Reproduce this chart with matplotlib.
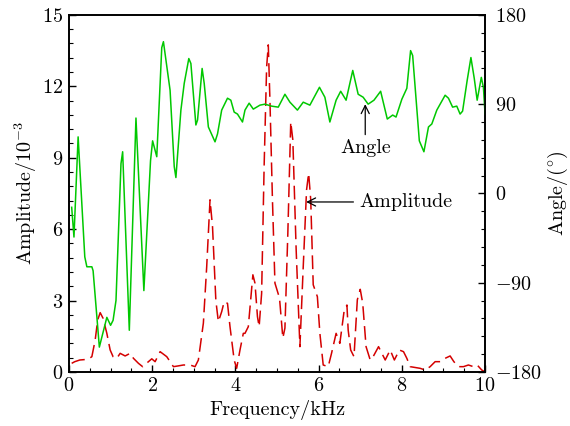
import matplotlib
matplotlib.use('Agg')
import matplotlib.pyplot as plt
from matplotlib.ticker import MultipleLocator

plt.rcParams['font.family'] = 'cmr10'
plt.rcParams['mathtext.fontset'] = 'cm'
plt.rcParams['axes.formatter.use_mathtext'] = True
plt.rcParams['font.size'] = 14.5

# angle trace (green)
angle_f = [0.065, 0.12, 0.22, 0.38, 0.43, 0.55, 0.58, 0.73, 0.91, 1.00, 1.06, 1.13,
           1.25, 1.29, 1.45, 1.61, 1.80, 1.96, 2.01, 2.11, 2.23, 2.27, 2.43, 2.53,
           2.57, 2.69, 2.77, 2.88, 2.93, 3.05, 3.09, 3.20, 3.25, 3.35, 3.51, 3.57,
           3.67, 3.81, 3.89, 3.97, 4.05, 4.17, 4.23, 4.33, 4.43, 4.59, 4.71, 4.87,
           5.03, 5.19, 5.31, 5.49, 5.63, 5.79, 6.02, 6.15, 6.27, 6.42, 6.53, 6.66,
           6.82, 6.95, 7.07, 7.19, 7.33, 7.49, 7.65, 7.78, 7.86, 8.00, 8.12, 8.21,
           8.26, 8.42, 8.53, 8.64, 8.72, 8.84, 9.04, 9.12, 9.22, 9.32, 9.40, 9.46,
           9.57, 9.66, 9.74, 9.81, 9.91, 9.96, 10.0]
angle_v = [-14, -44, 57, -64, -74, -74, -78, -155, -125, -133, -128, -108,
           30, 42, -138, 76, -98, 33, 53, 37, 147, 153, 104, 27,
           16, 84, 111, 136, 131, 69, 74, 126, 111, 67, 52, 60,
           84, 96, 94, 82, 80, 72, 84, 91, 85, 89, 90, 88,
           87, 100, 92, 84, 92, 89, 107, 97, 72, 94, 103, 94,
           124, 100, 97, 90, 94, 103, 75, 79, 77, 95, 106, 144,
           139, 53, 42, 67, 70, 84, 99, 96, 87, 88, 80, 83,
           114, 137, 116, 94, 117, 107, 80]

# amplitude trace (red dashed), units of 1e-3
amp_f = [0.065, 0.14, 0.26, 0.46, 0.55, 0.63, 0.69, 0.75, 0.82, 0.91, 0.99, 1.06,
         1.15, 1.23, 1.35, 1.47, 1.55, 1.67, 1.77, 1.91, 1.99, 2.07, 2.19, 2.35,
         2.51, 2.62, 2.75, 2.91, 3.03, 3.11, 3.23, 3.31, 3.39, 3.45, 3.53, 3.59,
         3.67, 3.73, 3.81, 3.87, 3.97, 4.03, 4.11, 4.19, 4.23, 4.31, 4.42, 4.47,
         4.53, 4.57, 4.63, 4.69, 4.75, 4.79, 4.83, 4.89, 4.95, 5.06, 5.14, 5.19,
         5.26, 5.33, 5.38, 5.46, 5.55, 5.63, 5.71, 5.76, 5.81, 5.87, 5.97, 6.03,
         6.11, 6.23, 6.31, 6.42, 6.51, 6.61, 6.68, 6.71, 6.77, 6.85, 6.93, 7.00,
         7.06, 7.14, 7.24, 7.31, 7.44, 7.52, 7.60, 7.72, 7.82, 7.94, 8.04, 8.12,
         8.20, 8.44, 8.56, 8.68, 8.80, 8.92, 9.04, 9.16, 9.25, 9.36, 9.48, 9.60,
         9.72, 9.81, 9.92, 10.0]
amp_v = [0.36, 0.43, 0.50, 0.53, 0.64, 1.34, 2.18, 2.49, 2.25, 1.62, 0.92, 0.64,
         0.57, 0.78, 0.67, 0.78, 0.57, 0.36, 0.22, 0.43, 0.55, 0.43, 0.85, 0.64,
         0.22, 0.25, 0.29, 0.29, 0.22, 0.50, 2.05, 4.42, 7.23, 6.10, 3.00, 2.11,
         2.53, 2.95, 2.88, 1.90, 0.50, 0.15, 0.92, 1.62, 1.62, 1.90, 4.08, 3.73,
         2.32, 1.90, 3.30, 8.63, 12.8, 13.74, 11.4, 7.23, 3.73, 3.10, 1.42, 1.84,
         5.83, 10.5, 9.75, 5.13, 1.06, 4.42, 7.65, 8.35, 7.23, 3.66, 3.16, 1.62,
         0.29, 0.22, 0.78, 1.62, 1.20, 2.53, 2.81, 1.76, 0.92, 0.64, 3.03, 3.47,
         2.88, 1.06, 0.50, 0.64, 1.06, 0.78, 0.50, 0.92, 0.50, 0.92, 0.85, 0.57,
         0.22, 0.15, 0.08, 0.22, 0.43, 0.43, 0.57, 0.67, 0.43, 0.22, 0.22, 0.29,
         0.22, 0.29, 0.08, 0.0]

fig = plt.figure(figsize=(5.7, 4.26), dpi=100)
ax = fig.add_axes([0.121, 0.127, 0.730, 0.838])
ax2 = ax.twinx()

ax.plot(amp_f, amp_v, color='#d40000', lw=1.1, dashes=(9, 4))
ax2.plot(angle_f, angle_v, color='#00c800', lw=1.1)

ax.set_xlim(0, 10)
ax.set_ylim(0, 15)
ax2.set_ylim(-180, 180)

ax.xaxis.set_major_locator(MultipleLocator(2))
ax.xaxis.set_minor_locator(MultipleLocator(0.5))
ax.yaxis.set_major_locator(MultipleLocator(3))
ax.yaxis.set_minor_locator(MultipleLocator(0.6))
ax2.yaxis.set_major_locator(MultipleLocator(90))
ax2.yaxis.set_minor_locator(MultipleLocator(18))

for a in (ax, ax2):
    a.tick_params(which='major', direction='in', length=5, width=1, pad=4)
    a.tick_params(which='minor', direction='in', length=3, width=0.8)
    for s in a.spines.values():
        s.set_linewidth(1.2)
ax.tick_params(axis='x', which='both', top=False)
ax.tick_params(axis='y', which='both', right=False)
ax2.tick_params(axis='y', which='major', pad=7)

ax.set_xlabel('Frequency/kHz', labelpad=3)
ax.set_ylabel(r'Amplitude/10$^{-3}$', labelpad=2.5)
ax2.set_ylabel(r'Angle/($^{\circ}$)', labelpad=3)

ax2.annotate('Angle', xy=(7.12, 90), xytext=(7.12, 46), ha='center', va='center',
             arrowprops=dict(arrowstyle='->', color='black', lw=0.9, shrinkA=1, shrinkB=0))
ax.annotate('Amplitude', xy=(5.70, 7.14), xytext=(6.97, 7.14), ha='left', va='center',
            arrowprops=dict(arrowstyle='->', color='black', lw=0.9, shrinkA=2, shrinkB=0))

fig.savefig('out.png', dpi=100)
